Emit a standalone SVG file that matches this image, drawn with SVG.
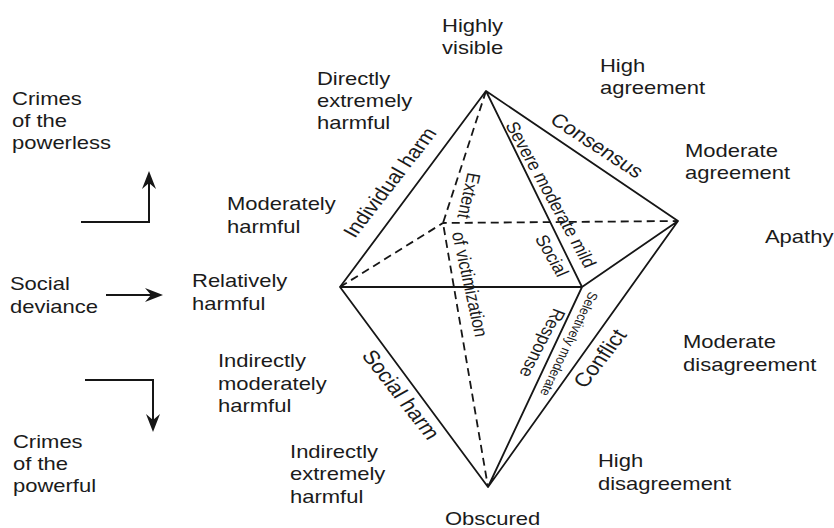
<svg xmlns="http://www.w3.org/2000/svg" width="834" height="528" viewBox="0 0 834 528">
<style>
text{font-family:"Liberation Sans",Arial,Helvetica,sans-serif;fill:#1b1b1b;font-size:18.8px}
.m{text-anchor:middle}
.s{font-size:16.3px}
.xs{font-size:12px}
.l{font-size:19.5px}
.e{stroke:#161616;stroke-width:1.8;fill:none;stroke-linejoin:round}
.d{stroke:#161616;stroke-width:1.8;fill:none;stroke-dasharray:8 5}
.a{stroke:#161616;stroke-width:2;fill:none;marker-end:url(#ah)}
</style>
<defs>
<marker id="ah" markerUnits="userSpaceOnUse" markerWidth="20" markerHeight="16" viewBox="-19 -8 20 16" refX="-12" refY="0" orient="auto">
<path d="M0,0 L-18,-7 L-12,0 L-18,7 Z" fill="#161616"/>
</marker>
</defs>
<rect width="834" height="528" fill="#fff"/>
<g id="octahedron">
<path class="e" d="M486,91 L340,287 L582,287 L486,91 L678,221 L582,287 M340,287 L488,487 L582,287 M678,221 L488,487"/>
<path class="d" d="M486,91 L443,223 L488,487 M340,287 L443,223 L678,221"/>
</g>
<g id="connectors">
<path class="a" d="M81,222 H149 V183"/>
<path class="a" d="M106,295 H151"/>
<path class="a" d="M85,380 H153 V420"/>
</g>
<g transform="scale(1.17 1)">
<g id="highly-visible"><text x="377.8" y="32">Highly</text><text x="377.8" y="54">visible</text></g>
<g id="directly-extremely-harmful"><text x="270.9" y="85">Directly</text><text x="270.9" y="107">extremely</text><text x="270.9" y="129">harmful</text></g>
<g id="high-agreement"><text x="512.8" y="72">High</text><text x="512.8" y="94">agreement</text></g>
<g id="crimes-powerless"><text x="10.3" y="105">Crimes</text><text x="10.3" y="127">of the</text><text x="10.3" y="149">powerless</text></g>
<g id="moderate-agreement"><text x="585.5" y="157">Moderate</text><text x="585.5" y="179">agreement</text></g>
<g id="moderately-harmful"><text x="194" y="210">Moderately</text><text x="194" y="233">harmful</text></g>
<g id="apathy"><text x="653.8" y="243">Apathy</text></g>
<g id="social-deviance"><text x="8.5" y="290">Social</text><text x="8.5" y="313">deviance</text></g>
<g id="relatively-harmful"><text x="164.1" y="287">Relatively</text><text x="164.1" y="310">harmful</text></g>
<g id="moderate-disagreement"><text x="583.8" y="348">Moderate</text><text x="583.8" y="371">disagreement</text></g>
<g id="indirectly-moderately-harmful"><text x="186.3" y="367">Indirectly</text><text x="186.3" y="390">moderately</text><text x="186.3" y="412">harmful</text></g>
<g id="crimes-powerful"><text x="11.1" y="448">Crimes</text><text x="11.1" y="470">of the</text><text x="11.1" y="492">powerful</text></g>
<g id="indirectly-extremely-harmful"><text x="247.9" y="458">Indirectly</text><text x="247.9" y="480">extremely</text><text x="247.9" y="503">harmful</text></g>
<g id="high-disagreement"><text x="511.1" y="467">High</text><text x="511.1" y="490">disagreement</text></g>
<g id="obscured"><text x="380.3" y="525">Obscured</text></g>
<g id="edge-labels">
<text class="m" transform="translate(338.5 186) rotate(-56.3)">Individual harm</text>
<text class="m" transform="translate(506.4 150.5) rotate(37.2)">Consensus</text>
<text class="m s" transform="translate(465.8 197) rotate(64.6)">Severe moderate mild</text>
<text class="m s" transform="translate(466.7 258) rotate(63.7)">Social</text>
<text class="m s" transform="translate(395.3 194.7) rotate(101.2)">Extent</text>
<text class="m s" transform="translate(396.2 285.3) rotate(79.1)">of victimization</text>
<text class="m s" transform="translate(458.5 340.8) rotate(114.3)">Response</text>
<text class="m xs" transform="translate(482.6 342.4) rotate(112.5)">Selectively moderate</text>
<text class="m l" transform="translate(518.2 362.1) rotate(-56.3)">Conflict</text>
<text class="m l" transform="translate(337.2 398.3) rotate(56.3)">Social harm</text>
</g>
</g>
</svg>
